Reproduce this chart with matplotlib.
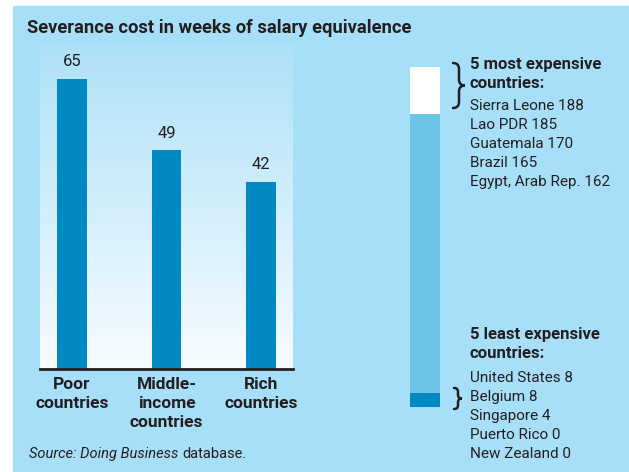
import numpy as np
import matplotlib.pyplot as plt
from matplotlib.patches import Rectangle, PathPatch
from matplotlib.path import Path

# data
groups = ["Poor\ncountries", "Middle-\nincome\ncountries", "Rich\ncountries"]
weeks = [65, 49, 42]

most_expensive = ["Sierra Leone", "Lao PDR", "Guatemala", "Brazil", "Egypt, Arab Rep."]
most_values = [188, 185, 170, 165, 162]
least_expensive = ["United States", "Belgium", "Singapore", "Puerto Rico", "New Zealand"]
least_values = [8, 8, 4, 0, 0]

W, H = 629, 472
panel_c = "#a8dff8"
bar_c = "#0089c2"
light_c = "#6cc4e6"
text_c = "#231f20"

plt.rcParams['font.family'] = ['Roboto', 'DejaVu Sans']

fig = plt.figure(figsize=(W / 100, H / 100), dpi=100)


def fx(x):
    return x / W


def fy(y):
    return 1 - y / H


def brace(x0, x1, y0, y1, lw=1.8):
    # right-pointing curly brace, pixel coords from top-left
    xm = (x0 + x1) / 2
    ym = (y0 + y1) / 2
    r = min((y1 - y0) * 0.18, 6)
    verts = [(x0, y0), (xm, y0), (xm, y0 + r),
             (xm, ym - r), (xm, ym), (x1, ym),
             (xm, ym), (xm, ym + r),
             (xm, y1 - r), (xm, y1), (x0, y1)]
    codes = [Path.MOVETO, Path.CURVE3, Path.CURVE3,
             Path.LINETO, Path.CURVE3, Path.CURVE3,
             Path.CURVE3, Path.CURVE3,
             Path.LINETO, Path.CURVE3, Path.CURVE3]
    verts = [(fx(a), fy(b)) for a, b in verts]
    fig.patches.append(PathPatch(Path(verts, codes), transform=fig.transFigure,
                                 fill=False, lw=lw, color=text_c, capstyle="round"))


# blue panel
fig.patches.append(Rectangle((fx(13), fy(471)), fx(629) - fx(13), fy(6) - fy(471),
                             transform=fig.transFigure, color=panel_c, zorder=-5))

fig.text(fx(27), fy(28), "Severance cost in weeks of salary equivalence",
         fontsize=13.2, fontweight="bold", color=text_c, va="center", ha="left")

# main bar chart
ax = fig.add_axes([fx(40), fy(369), fx(293) - fx(40), fy(45) - fy(369)])
x = np.arange(len(groups))
ax.set_xlim(-0.339, 2.339)
ax.set_ylim(0, 72.6)
grad = np.linspace(0, 1, 256).reshape(-1, 1)
cmap = plt.matplotlib.colors.LinearSegmentedColormap.from_list("g", ["#f7fcff", "#aee1f8"])
ax.imshow(grad, aspect="auto", cmap=cmap, origin="lower",
          extent=[-0.339, 2.339, 0, 72.6], zorder=0)
ax.bar(x, weeks, width=0.317, color=bar_c, zorder=2)
for xi, v in zip(x, weeks):
    ax.text(xi, v + 2.2, str(v), ha="center", va="bottom", fontsize=12, color=text_c)
for s in ["top", "left", "right"]:
    ax.spines[s].set_visible(False)
ax.spines["bottom"].set_linewidth(2)
ax.spines["bottom"].set_color(text_c)
ax.set_yticks([])
ax.set_xticks(x)
ax.set_xticklabels(groups, fontsize=12.5, fontweight="bold", color=text_c, linespacing=1.3)
ax.tick_params(axis="x", length=0, pad=6)

# source line
t1 = fig.text(fx(29), fy(454), "Source: Doing Business", fontsize=10.5, style="italic",
              color=text_c, va="center", ha="left")
fig.canvas.draw()
bb = t1.get_window_extent()
fig.text(bb.x1 / W + fx(4), fy(454), "database.", fontsize=10.5,
         color=text_c, va="center", ha="left")

# range bar on the right
ax2 = fig.add_axes([fx(410), fy(407), fx(440) - fx(410), fy(67) - fy(407)])
ax2.set_ylim(0, max(most_values))
ax2.set_xlim(-0.5, 0.5)
lo = max(least_values)
hi = min(most_values)
ax2.bar(0, lo, width=1, color=bar_c)
ax2.bar(0, hi - lo, bottom=lo, width=1, color=light_c)
ax2.bar(0, max(most_values) - hi, bottom=hi, width=1, color="white")
ax2.axis("off")

# brace and labels, top
brace(453, 465, 63, 108)
fig.text(fx(470), fy(64), "5 most expensive", fontsize=12, fontweight="bold",
         color=text_c, va="center")
fig.text(fx(470), fy(83), "countries:", fontsize=12, fontweight="bold",
         color=text_c, va="center")
for i, (n, v) in enumerate(zip(most_expensive, most_values)):
    fig.text(fx(470), fy(106 + 19 * i), f"{n} {v}", fontsize=11,
             color=text_c, va="center")

# brace and labels, bottom
brace(454, 462, 388, 409)
fig.text(fx(470), fy(335), "5 least expensive", fontsize=12, fontweight="bold",
         color=text_c, va="center")
fig.text(fx(470), fy(354), "countries:", fontsize=12, fontweight="bold",
         color=text_c, va="center")
for i, (n, v) in enumerate(zip(least_expensive, least_values)):
    fig.text(fx(470), fy(378 + 19 * i), f"{n} {v}", fontsize=11,
             color=text_c, va="center")

fig.savefig("out.png", dpi=100)
